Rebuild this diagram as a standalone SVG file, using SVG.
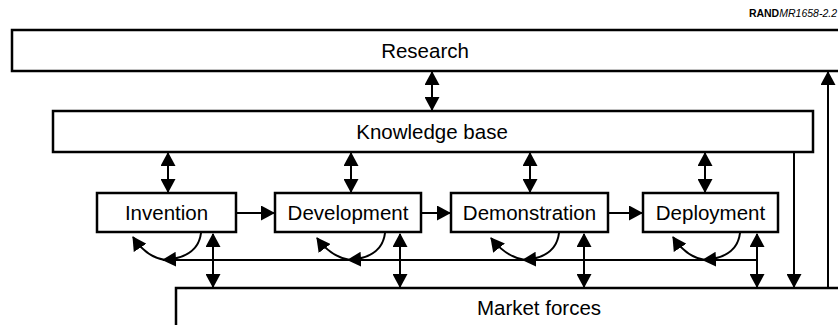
<svg xmlns="http://www.w3.org/2000/svg" width="838" height="325" viewBox="0 0 838 325">
<style>
.box{fill:#fff;stroke:#000;stroke-width:2.5}
.lbl{font-family:"Liberation Sans",Arial,sans-serif;font-size:20.5px;fill:#000;text-anchor:middle}
.ln{fill:none;stroke:#000;stroke-width:2}
.a1{marker-end:url(#ah)}
.a2{marker-start:url(#ah);marker-end:url(#ah)}
</style>
<defs>
<marker id="ah" markerUnits="userSpaceOnUse" markerWidth="14" markerHeight="15" refX="13" refY="7.5" orient="auto-start-reverse" viewBox="0 0 14 15">
<path d="M0,0 L14,7.5 L0,15 z" fill="#000"/>
</marker>
</defs>
<rect width="838" height="325" fill="#fff"/>
<text x="837" y="17" font-family="Liberation Sans,Arial,sans-serif" font-size="10.5" text-anchor="end"><tspan font-weight="bold">RAND</tspan><tspan font-style="italic">MR1658-2.2</tspan></text>

<g id="connectors">
<line class="ln a2" x1="432" y1="72" x2="432" y2="110"/>
<line class="ln a1" x1="828" y1="288" x2="828" y2="72"/>
<line class="ln a1" x1="794" y1="152" x2="794" y2="287"/>
<line class="ln a2" x1="168" y1="153" x2="168" y2="192"/>
<line class="ln a2" x1="351" y1="153" x2="351" y2="192"/>
<line class="ln a2" x1="530" y1="153" x2="530" y2="192"/>
<line class="ln a2" x1="705" y1="153" x2="705" y2="192"/>
<line class="ln a1" x1="237" y1="213" x2="274" y2="213"/>
<line class="ln a1" x1="422" y1="213" x2="450" y2="213"/>
<line class="ln a1" x1="609" y1="213" x2="642" y2="213"/>
<line class="ln a2" x1="213" y1="234" x2="213" y2="287"/>
<line class="ln a2" x1="400" y1="234" x2="400" y2="287"/>
<line class="ln a2" x1="584" y1="234" x2="584" y2="287"/>
<line class="ln a2" x1="757" y1="234" x2="757" y2="287"/>
<line class="ln" x1="165" y1="260" x2="757" y2="260"/>
<path class="ln a1" d="M201,233 Q198,258 163,260"/>
<path class="ln a1" d="M165,260 Q146,257 133,237"/>
<path class="ln a1" d="M385,233 Q382,258 348,260"/>
<path class="ln a1" d="M350,260 Q331,257 317,238"/>
<path class="ln a1" d="M559,233 Q556,258 523,260"/>
<path class="ln a1" d="M525,260 Q506,257 491,238"/>
<path class="ln a1" d="M740,233 Q737,258 703,260"/>
<path class="ln a1" d="M705,260 Q686,257 673,237"/>
</g>

<g id="research"><rect class="box" x="12" y="30" width="840" height="41"/><text class="lbl" x="425" y="58">Research</text></g>
<g id="knowledge"><rect class="box" x="53" y="111" width="760" height="41"/><text class="lbl" x="432" y="139">Knowledge base</text></g>
<g id="invention"><rect class="box" x="97" y="193" width="139" height="39"/><text class="lbl" x="166.5" y="220">Invention</text></g>
<g id="development"><rect class="box" x="275" y="193" width="146" height="39"/><text class="lbl" x="348" y="220">Development</text></g>
<g id="demonstration"><rect class="box" x="451" y="193" width="157" height="39"/><text class="lbl" x="529.5" y="220">Demonstration</text></g>
<g id="deployment"><rect class="box" x="643" y="193" width="135" height="39"/><text class="lbl" x="710.5" y="220">Deployment</text></g>
<g id="market"><rect class="box" x="176" y="288" width="700" height="60"/><text class="lbl" x="539" y="315">Market forces</text></g>
</svg>
